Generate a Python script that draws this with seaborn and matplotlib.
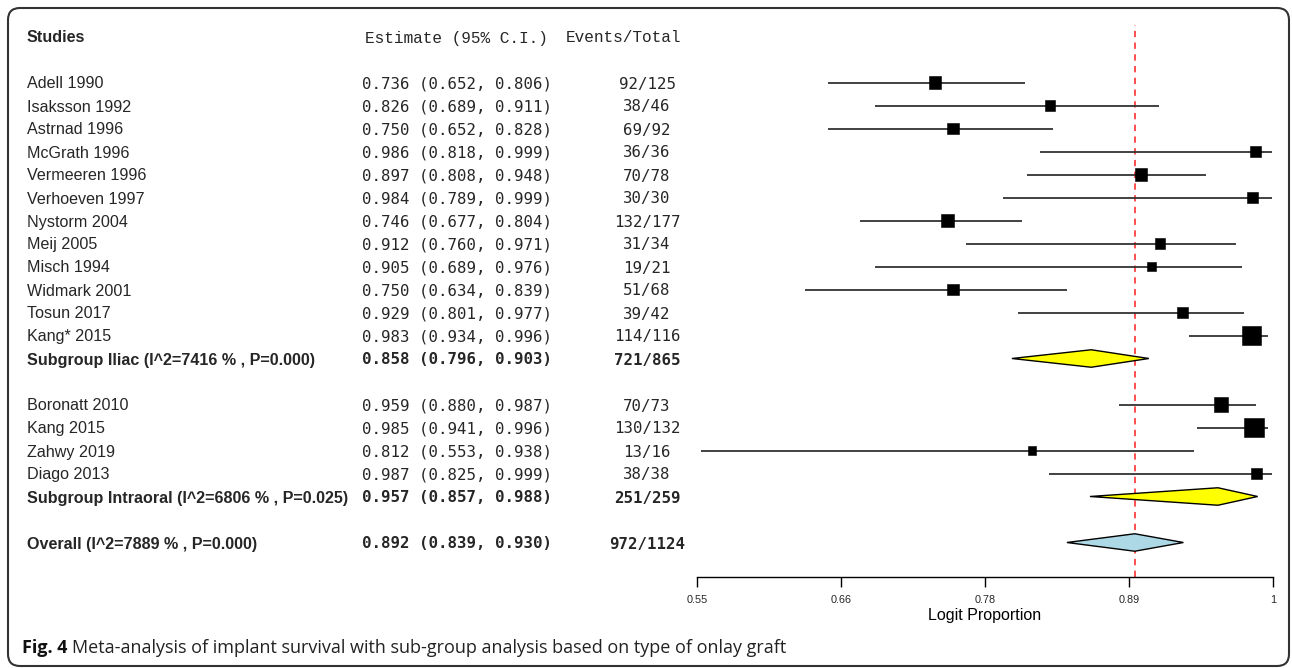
#!/usr/bin/env python3
"""
Forest plot: implant survival meta-analysis with subgroups (iliac / intraoral).
"""
import numpy as np
import pandas as pd
import matplotlib
matplotlib.use('Agg')
import matplotlib.pyplot as plt
import matplotlib.transforms as mtrans
from matplotlib.patches import FancyBboxPatch
import seaborn as sns

# --- data -------------------------------------------------------------------
iliac_studies = ['Adell 1990', 'Isaksson 1992', 'Astrnad 1996', 'McGrath 1996',
                 'Vermeeren 1996', 'Verhoeven 1997', 'Nystorm 2004', 'Meij 2005',
                 'Misch 1994', 'Widmark 2001', 'Tosun 2017', 'Kang* 2015']
iliac_est = [0.736, 0.826, 0.750, 0.986, 0.897, 0.984, 0.746, 0.912, 0.905, 0.750, 0.929, 0.983]
iliac_lo = [0.652, 0.689, 0.652, 0.818, 0.808, 0.789, 0.677, 0.760, 0.689, 0.634, 0.801, 0.934]
iliac_hi = [0.806, 0.911, 0.828, 0.999, 0.948, 0.999, 0.804, 0.971, 0.976, 0.839, 0.977, 0.996]
iliac_events = [92, 38, 69, 36, 70, 30, 132, 31, 19, 51, 39, 114]
iliac_total = [125, 46, 92, 36, 78, 30, 177, 34, 21, 68, 42, 116]
iliac_weight = [5.8, 4.1, 5.4, 4.9, 6.3, 4.1, 6.9, 4.1, 3.3, 4.9, 4.9, 14.6]

intra_studies = ['Boronatt 2010', 'Kang 2015', 'Zahwy 2019', 'Diago 2013']
intra_est = [0.959, 0.985, 0.812, 0.987]
intra_lo = [0.880, 0.941, 0.553, 0.825]
intra_hi = [0.987, 0.996, 0.938, 0.999]
intra_events = [70, 130, 13, 38]
intra_total = [73, 132, 16, 38]
intra_weight = [7.9, 15.4, 2.6, 4.9]

summary_labels = ['Subgroup Iliac (I^2=7416 % , P=0.000)',
                  'Subgroup Intraoral (I^2=6806 % , P=0.025)',
                  'Overall (I^2=7889 % , P=0.000)']
summary_est = [0.858, 0.957, 0.892]
summary_lo = [0.796, 0.857, 0.839]
summary_hi = [0.903, 0.988, 0.930]
summary_events = [721, 251, 972]
summary_total = [865, 259, 1124]
summary_colors = ['yellow', 'yellow', 'lightblue']

tick_values = [0.55, 0.6625, 0.775, 0.8875, 1.0]
tick_labels = ['0.55', '0.66', '0.78', '0.89', '1']

caption_bold = 'Fig. 4'
caption_text = 'Meta-analysis of implant survival with sub-group analysis based on type of onlay graft'


def build_rows():
    """Row index per line: header on 0, a blank line, studies, summary, blank."""
    n1, n2 = len(iliac_studies), len(intra_studies)
    r1 = list(range(2, 2 + n1))
    s1 = 2 + n1
    r2 = list(range(s1 + 2, s1 + 2 + n2))
    s2 = s1 + 2 + n2
    s3 = s2 + 2
    studies = pd.DataFrame({
        'study': iliac_studies + intra_studies,
        'est': iliac_est + intra_est,
        'lo': iliac_lo + intra_lo,
        'hi': iliac_hi + intra_hi,
        'events': iliac_events + intra_events,
        'total': iliac_total + intra_total,
        'weight': iliac_weight + intra_weight,
        'row': r1 + r2,
    })
    summ = pd.DataFrame({
        'study': summary_labels, 'est': summary_est, 'lo': summary_lo,
        'hi': summary_hi, 'events': summary_events, 'total': summary_total,
        'color': summary_colors, 'row': [s1, s2, s3],
    })
    return studies, summ


studies, summ = build_rows()

sns.set_theme(style='white')
plt.rcParams['font.family'] = ['Liberation Sans', 'DejaVu Sans']

W, H = 1292, 668
fig = plt.figure(figsize=(W / 100, H / 100), dpi=100)
ax = fig.add_axes([697 / W, (H - 577) / H, 576 / W, 552 / H])
ax.set_xlim(0.55, 1.0)
ax.set_ylim(23.5, -0.5)

# CI lines and weighted squares
ax.hlines(studies['row'], studies['lo'], studies['hi'], color='#333333', lw=1.3,
          clip_on=False, zorder=2)
sns.scatterplot(data=studies, x='est', y='row', size='weight', sizes=(0, 206),
                size_norm=(0, 16), marker='s', color='black', edgecolor='black',
                linewidth=0.4, legend=False, ax=ax, clip_on=False, zorder=3)

# summary diamonds
hh = 0.38
for _, r in summ.iterrows():
    ax.fill([r['lo'], r['est'], r['hi'], r['est']],
            [r['row'], r['row'] - hh, r['row'], r['row'] + hh],
            facecolor=r['color'], edgecolor='black', lw=1.0, clip_on=False, zorder=3)

ax.axvline(summary_est[-1], color='#ff4040', ls=(0, (3.5, 3)), lw=1.3, zorder=1)

# axis styling
for s in ['left', 'top', 'right']:
    ax.spines[s].set_visible(False)
ax.spines['bottom'].set_color('black')
ax.spines['bottom'].set_linewidth(1.0)
ax.set_yticks([])
ax.set_xticks(tick_values)
ax.set_xticklabels(tick_labels)
ax.tick_params(axis='x', direction='out', length=7, width=1, color='black',
               labelsize=7.8, pad=6, bottom=True)
ax.set_xlabel('Logit Proportion', fontsize=11.5, labelpad=2, color='black')
ax.set_ylabel('')

# text columns
tr = mtrans.blended_transform_factory(fig.transFigure, ax.transData)
name_x, est_x, ev_x = 27 / W, 362 / W, 647 / W
mono = ['DejaVu Sans Mono']
va = 'center_baseline'
ax.text(name_x, 0, 'Studies', transform=tr, fontsize=11.6, fontweight='bold',
        va=va, ha='left')
ax.text(365 / W, 0, 'Estimate (95% C.I.)', transform=tr, fontsize=11.6,
        family=['Liberation Mono'], va=va, ha='left')
ax.text(566 / W, 0, 'Events/Total', transform=tr, fontsize=11.6,
        family=['Liberation Mono'], va=va, ha='left')

for _, r in studies.iterrows():
    ax.text(name_x, r['row'], r['study'], transform=tr, fontsize=11.6, va=va)
    ax.text(est_x, r['row'], f"{r['est']:.3f} ({r['lo']:.3f}, {r['hi']:.3f})",
            transform=tr, fontsize=11.3, family=mono, va=va)
    ax.text(ev_x, r['row'], f"{r['events']}/{r['total']}", transform=tr,
            fontsize=11.3, family=mono, va=va, ha='center')
for _, r in summ.iterrows():
    ax.text(name_x, r['row'], r['study'], transform=tr, fontsize=11.6,
            fontweight='bold', va=va)
    ax.text(est_x, r['row'], f"{r['est']:.3f} ({r['lo']:.3f}, {r['hi']:.3f})",
            transform=tr, fontsize=11.3, family=mono, fontweight='bold', va=va)
    ax.text(ev_x, r['row'], f"{r['events']}/{r['total']}", transform=tr,
            fontsize=11.3, family=mono, fontweight='bold', va=va, ha='center')

# caption
cy = 1 - 648 / H
t1 = fig.text(22 / W, cy, caption_bold, fontsize=13, fontweight='bold',
              family=['Open Sans'], va='center', color='#111111')
renderer = fig.canvas.get_renderer()
bb = t1.get_window_extent(renderer)
fig.text((bb.x1 + 5) / W, cy, caption_text, fontsize=13, family=['Open Sans'],
         va='center', color='#222222')

# rounded frame around the whole panel
frame = FancyBboxPatch((8, 2), 1281, 658, boxstyle='round,pad=0,rounding_size=12',
                       transform=mtrans.IdentityTransform(), fill=False,
                       edgecolor='#333333', lw=1.5)
fig.patches.append(frame)

fig.savefig('out.png', dpi=100)
plt.close(fig)
